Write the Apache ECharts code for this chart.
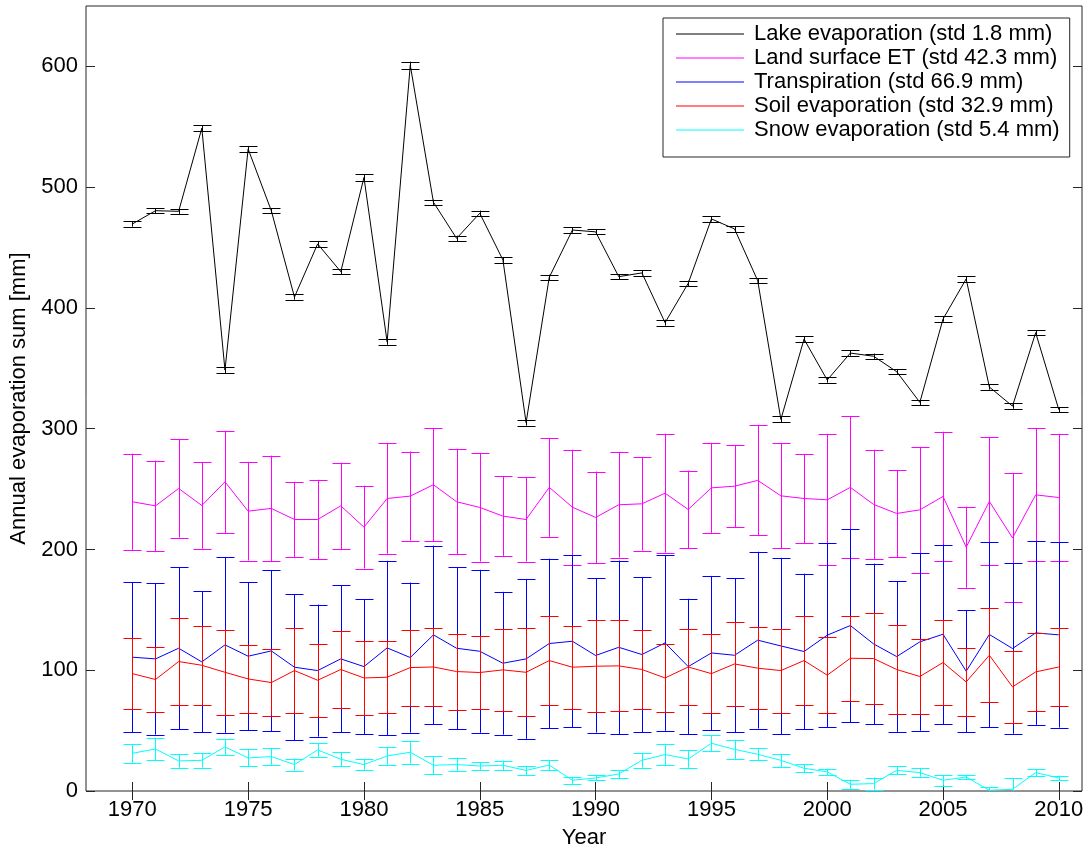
<!DOCTYPE html>
<html><head><meta charset="utf-8">
<script src="https://cdn.jsdelivr.net/npm/echarts@6/dist/echarts.min.js"></script>
<style>html,body{margin:0;padding:0;background:#fff}#c{width:1091px;height:852px}</style>
</head><body><div id="c"></div>
<script>
// ---- data ----
const years = [1970,1971,1972,1973,1974,1975,1976,1977,1978,1979,1980,1981,1982,1983,1984,1985,1986,1987,1988,1989,1990,1991,1992,1993,1994,1995,1996,1997,1998,1999,2000,2001,2002,2003,2004,2005,2006,2007,2008,2009,2010];
const xTicks = [1970,1975,1980,1985,1990,1995,2000,2005,2010];
const yTicks = [0,100,200,300,400,500,600];
const seriesNames = ['Lake evaporation (std 1.8 mm)','Land surface ET (std 42.3 mm)','Transpiration (std 66.9 mm)','Soil evaporation (std 32.9 mm)','Snow evaporation (std 5.4 mm)'];

const lake = [469.5,480.5,480,548.8,348.5,531.6,480.5,409,453,430,508,372,601,487.5,457.6,478.4,439.7,305,425.3,464.5,463,425.9,429,387.8,420.4,473.7,465.4,422.5,307.7,374.2,340.3,362.6,360,347.2,321.8,390.8,424,334.5,318.7,379.5,315.7];
const lakeErr = [2.2,2.2,2.2,2.5,2.5,2.5,2.2,2.2,2.5,2.2,2.5,2.5,2.9,2.2,2.2,2.2,2.5,2.5,2.2,2.2,2.2,2.2,2.2,2.5,2.2,2.2,2.2,2.2,2.5,2.2,2.2,2.2,2.2,2.2,2.2,2.2,2.2,2.2,2.2,2.2,2.2];

const land = [239.5,236.1,250.5,236.4,256,231.7,234,224.8,224.8,236.1,218.5,242.2,244.2,253.6,239.5,234.8,227.6,224.8,251.4,235,226.5,237,237.8,246.6,233.1,251,252.4,257.2,244.4,242.2,241.1,251.4,237.3,229.8,232.8,243.9,201.9,239.8,209.6,245.2,243];
const landErr = [39.8,37.5,40.6,35.8,42.3,40.9,43.7,31,32.9,35.8,34.3,45.8,36.9,46.6,43.6,44.8,32.9,34.8,41,47.5,38,43.7,38.7,49.2,32.2,37.3,34,45.6,43.5,36.9,54.1,58.7,45.3,36.1,52.2,53.6,33.6,53,53.3,55.1,52.5];

const trans = [110.8,109.4,118.2,106.9,121,111.6,116,102.5,99.7,109.4,103,118.5,110.5,129.3,118.2,115.7,105.8,109.4,122.1,124,112.2,119,113,122.6,103,114.3,112.4,124.9,120.1,115.5,129,137,121.8,111.3,123.5,129.8,99.2,129.6,118,130.9,129.3];
const transErr = [62,62.7,67,58.4,72.8,61.4,66.7,60.5,54.7,60.8,56,72.1,62.1,73.9,67,67.5,59.1,66.2,70.3,71.1,63.8,71.8,64.2,72.8,56.2,63.8,63.7,73.2,73,64.5,76,80.1,66.5,62.3,73.6,74.3,50.7,76.8,70.6,76.1,76.8];

const soil = [97.2,92.3,107.2,104.1,98.3,92.8,89.8,99.7,91.7,100.6,93.6,94.2,102.2,102.7,98.9,98.1,100.3,98.3,108,102.5,103.3,103.6,100.6,93.6,102.7,97.2,105.2,101.7,99.7,108,95.9,109.9,109.7,100.6,94.8,106.4,90.3,112.4,86.2,98.6,102.7];
const soilErr = [29.3,26.9,35.9,32.6,35.4,28.2,27.4,35.2,30.4,31.7,30.8,29.8,31.5,32.5,31.5,30.4,33.7,36.6,36.6,34.4,38.1,37.7,32.4,27.8,31.2,33,35,33.8,34.8,36.6,31.5,35,38,36.6,30.8,35.5,28.1,38.8,30,32.1,32.6];

const snow = [31.2,34.8,24.9,25.4,36.5,27.4,28.5,21.9,34,26.3,21.9,29,32.1,21.3,21.9,20.7,21.3,17,21.5,8.9,10.8,14.1,25.4,30.2,26.5,39.5,34.5,30.4,25.4,18.8,15.8,5.6,6.1,17.1,15.2,8.9,11.6,0.6,1.4,15.2,10.8];
const snowErr = [7.8,9.3,5.7,6,6.7,7,6.9,5,5.6,5.8,4.6,7.2,9.4,7.5,5.7,3.2,3.9,3.6,4.2,2.9,2.1,3.3,6.2,8.7,7.2,6.5,7.9,4.9,5.3,3.3,2.7,3.7,5,3.2,3.5,4.5,2,2.5,9,3,2];

const colors = ['#000000','#ff00ff','#0000ff','#ff0000','#00ffff'];
const values = [lake, land, trans, soil, snow];
const errors = [lakeErr, landErr, transErr, soilErr, snowErr];

// ---- build ----
const FONT = 'Liberation Sans, Arial, sans-serif';
const FS = 22;
const frame = '#262626';

function pairs(vals){ return years.map((y,i)=>[y, vals[i]]); }
function bars(vals, errs){ return years.map((y,i)=>[y, vals[i]-errs[i], vals[i]+errs[i]]); }

function renderErr(params, api){
  const cs = params.coordSys;
  const top = cs.y, bot = cs.y + cs.height;
  const xv = api.value(0);
  const x = Math.round(api.coord([xv, 0])[0]) + 0.5;
  const yLo = api.coord([xv, api.value(1)])[1];
  const yHi = api.coord([xv, api.value(2)])[1];
  const style = {stroke: api.visual('color'), lineWidth: 1, fill: null};
  const cl = v => Math.max(top, Math.min(bot, v));
  const hw = 9;
  const ch = [{type:'line', shape:{x1:x,y1:cl(yLo),x2:x,y2:cl(yHi)}, style}];
  [yLo, yHi].forEach(yy => {
    if (yy >= top && yy <= bot) {
      const yr = Math.round(yy) + 0.5;
      ch.push({type:'line', shape:{x1:x-hw,y1:yr,x2:x+hw,y2:yr}, style});
    }
  });
  return {type:'group', children: ch};
}

const series = [];
seriesNames.forEach((nm, k) => {
  series.push({
    name: nm, type: 'line', data: pairs(values[k]),
    symbol: 'none', showSymbol: false,
    lineStyle: {color: colors[k], width: 1},
    itemStyle: {color: colors[k]},
    z: 2 + k, animation: false
  });
  series.push({
    name: nm + ' err', type: 'custom', data: bars(values[k], errors[k]),
    renderItem: renderErr, itemStyle: {color: colors[k]},
    encode: {x: 0, y: [1, 2]}, z: 2 + k, animation: false, silent: true
  });
});

const chart = echarts.init(document.getElementById('c'), null, {renderer: 'canvas'});
chart.setOption({
  animation: false,
  backgroundColor: '#ffffff',
  textStyle: {fontFamily: FONT},
  grid: {left: 86, right: 9, top: 6, bottom: 61, show: true, borderColor: frame, borderWidth: 1,
         backgroundColor: '#ffffff', containLabel: false, outerBoundsMode: 'none'},
  legend: {
    data: seriesNames, orient: 'vertical', left: 663, top: 18,
    icon: 'rect', itemWidth: 68, itemHeight: 1, itemGap: 2,
    padding: [5, 10, 16, 13],
    backgroundColor: '#ffffff', borderColor: frame, borderWidth: 1,
    textStyle: {fontFamily: FONT, fontSize: FS, color: '#000', padding: [0, 0, 0, 5]},
    selectedMode: false
  },
  xAxis: [{
    type: 'value', min: 1968, max: 2011, position: 'bottom',
    axisLine: {show: false},
    axisTick: {show: true, inside: true, length: 9, lineStyle: {color: frame}, customValues: xTicks},
    axisLabel: {show: true, customValues: xTicks, fontFamily: FONT, fontSize: FS, color: '#000', margin: 8, formatter: v => String(v)},
    splitLine: {show: false},
    name: 'Year', nameLocation: 'middle', nameGap: 36,
    nameTextStyle: {fontFamily: FONT, fontSize: FS, color: '#000'}
  }, {
    type: 'value', min: 1968, max: 2011, position: 'top',
    axisLine: {show: false},
    axisTick: {show: true, inside: true, length: 9, lineStyle: {color: frame}, customValues: xTicks},
    axisLabel: {show: false}, splitLine: {show: false}
  }],
  yAxis: [{
    type: 'value', min: 0, max: 650, position: 'left',
    axisLine: {show: false},
    axisTick: {show: true, inside: true, length: 9, lineStyle: {color: frame}, customValues: yTicks},
    axisLabel: {show: true, customValues: yTicks, fontFamily: FONT, fontSize: FS, color: '#000', margin: 8},
    splitLine: {show: false},
    name: 'Annual evaporation sum [mm]', nameLocation: 'middle', nameGap: 54,
    nameTextStyle: {fontFamily: FONT, fontSize: FS, color: '#000'}
  }, {
    type: 'value', min: 0, max: 650, position: 'right',
    axisLine: {show: false},
    axisTick: {show: true, inside: true, length: 9, lineStyle: {color: frame}, customValues: yTicks},
    axisLabel: {show: false}, splitLine: {show: false}
  }],
  series: series
});
</script></body></html>
